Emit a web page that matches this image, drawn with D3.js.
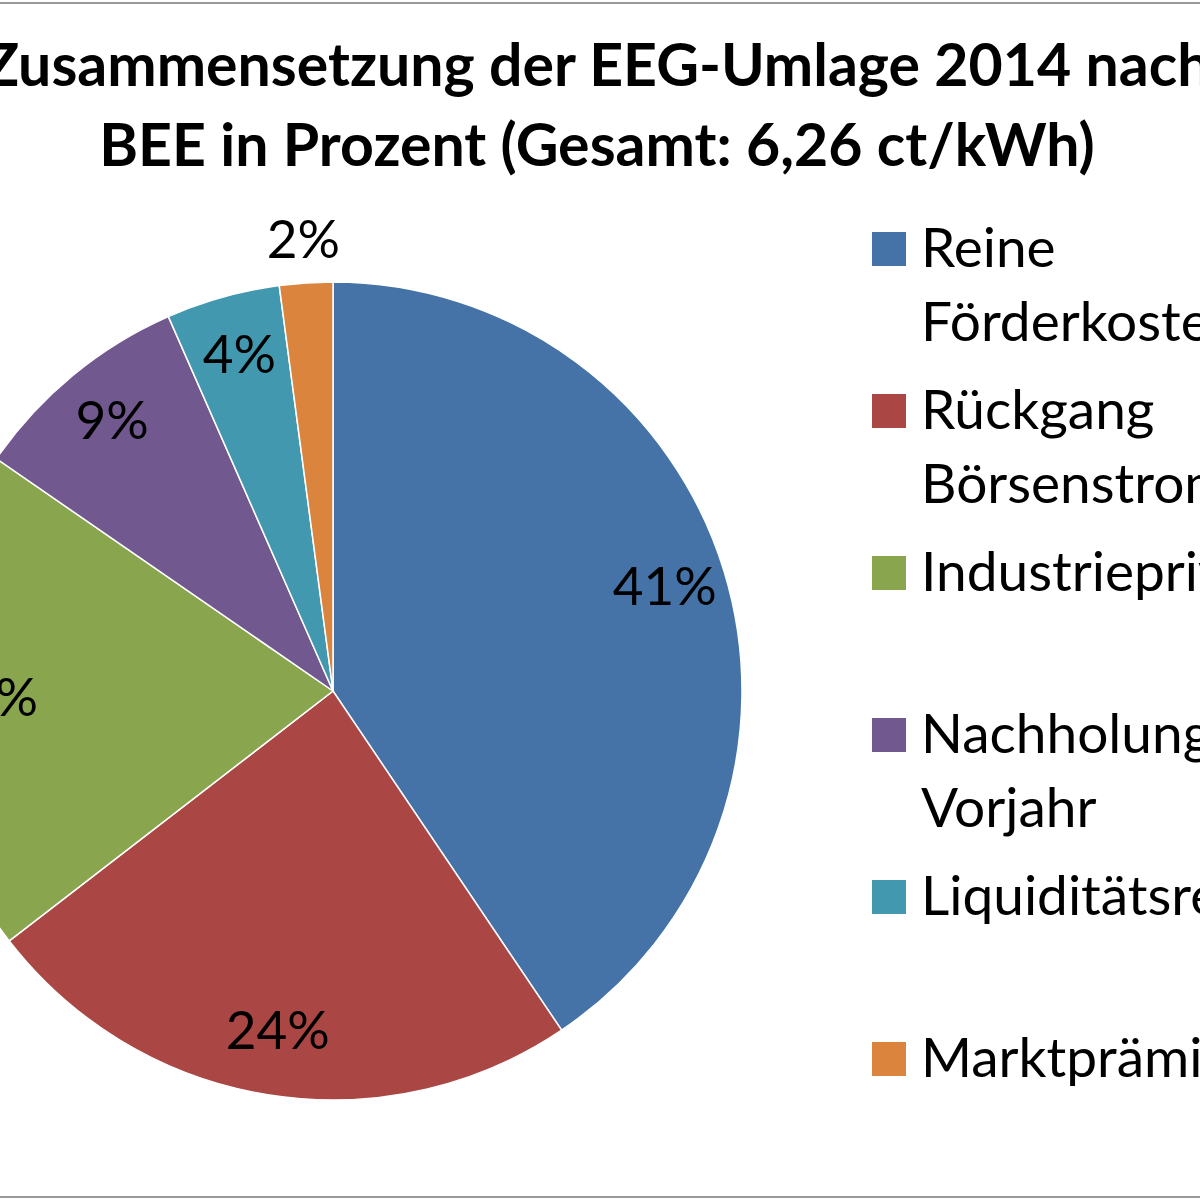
<!DOCTYPE html>
<html>
<head>
<meta charset="utf-8">
<script src="https://cdn.jsdelivr.net/npm/d3@7"></script>
<style>
  html, body { margin: 0; padding: 0; background: #fff; overflow: hidden; }
  svg { display: block; font-family: Lato, "Open Sans", sans-serif; }
</style>
</head>
<body>
<script>
// EEG-Umlage 2014, share per component (BEE), in percent
const categories = [
  "Reine Förderkosten",
  "Rückgang Börsenstrompreis",
  "Industrieprivilegien",
  "Nachholung Vorjahr",
  "Liquiditätsreserve",
  "Marktprämie"
];
const shares = [40.6, 24.0, 20.1, 8.8, 4.5, 2.1];
const labels = ["41%", "24%", "20%", "9%", "4%", "2%"];
const colors = ["#4572A7", "#AA4643", "#89A54E", "#71588F", "#4198AF", "#DB843D"];
const titleLines = [
  "Zusammensetzung der EEG-Umlage 2014 nach",
  "BEE in Prozent (Gesamt: 6,26 ct/kWh)"
];

const W = 1200, H = 1201;
const cx = 333, cy = 691, R = 409;

const svg = d3.select("body").append("svg")
    .attr("width", W)
    .attr("height", H);

// chart frame (only top and bottom edges are inside the view)
svg.append("rect")
    .attr("x", -40).attr("y", 3)
    .attr("width", W + 80).attr("height", 1194)
    .attr("fill", "none")
    .attr("stroke", "#999")
    .attr("stroke-width", 2);

// title
svg.append("text")
    .attr("text-anchor", "middle")
    .attr("font-weight", "bold")
    .attr("font-size", 59)
    .selectAll("tspan")
    .data(titleLines)
    .join("tspan")
    .attr("x", 597)
    .attr("y", (d, i) => 86 + i * 80)
    .text(d => d);

const pie = d3.pie().sort(null).value(d => d);
const arcs = pie(shares);

const arc = d3.arc().innerRadius(0).outerRadius(R);
const labelArc = d3.arc().innerRadius(347).outerRadius(347);
const outerArc = d3.arc().innerRadius(450).outerRadius(450);

const g = svg.append("g").attr("transform", `translate(${cx},${cy})`);

g.selectAll("path")
  .data(arcs)
  .join("path")
    .attr("d", arc)
    .attr("fill", (d, i) => colors[i])
    .attr("stroke", "#fff")
    .attr("stroke-width", 1.5);

g.selectAll("text.lbl")
  .data(arcs)
  .join("text")
    .attr("class", "lbl")
    .attr("transform", d => {
      const p = (d.data < 3 ? outerArc : labelArc).centroid(d);
      return `translate(${p[0]},${p[1]})`;
    })
    .attr("text-anchor", "middle")
    .attr("dy", "0.3em")
    .attr("font-size", 53)
    .attr("fill", "#000")
    .text((d, i) => labels[i]);

// legend
const legend = svg.append("g").attr("transform", "translate(872,0)");
const item = legend.selectAll("g")
  .data(categories)
  .join("g")
    .attr("transform", (d, i) => `translate(0,${248 + i * 162})`);

item.append("rect")
    .attr("x", 0).attr("y", -16)
    .attr("width", 34).attr("height", 34)
    .attr("fill", (d, i) => colors[i]);

item.append("text")
    .attr("font-size", 55)
    .attr("fill", "#000")
    .selectAll("tspan")
    .data(d => d.split(" "))
    .join("tspan")
    .attr("x", 49)
    .attr("y", (d, i) => 19 + i * 74)
    .text(d => d);
</script>
</body>
</html>
